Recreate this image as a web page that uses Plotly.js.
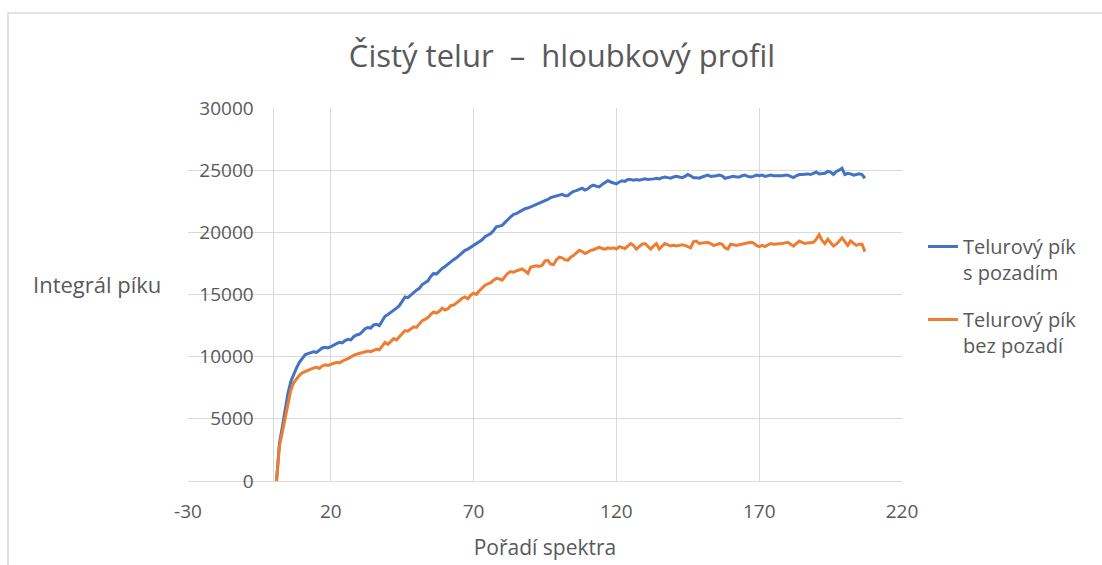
<!DOCTYPE html>
<html>
<head>
<meta charset="utf-8">
<script src="https://cdn.plot.ly/plotly-3.0.1.min.js"></script>
<style>html,body{margin:0;padding:0;background:#fff;}#chart{width:1102px;height:565px;}</style>
</head>
<body>
<div id="chart"></div>
<script>
const chartTitle = "Čistý telur\u00a0\u00a0–\u00a0\u00a0hloubkový profil";
const xTitle = "Pořadí spektra";
const yTitle = "Integrál píku";
const seriesNames = ["Telurový pík<br>s pozadím", "Telurový pík<br>bez pozadí"];
const xTickVals = [-30, 20, 70, 120, 170, 220];
const xTickText = ["-30", "20", "70", "120", "170", "220"];
const yTickVals = [0, 5000, 10000, 15000, 20000, 25000, 30000];
const yTickText = ["0", "5000", "10000", "15000", "20000", "25000", "30000"];

const withBackground = [
0,3000,4300,5800,7050,8000,8600,9100,9550,9900,
10150,10250,10300,10400,10350,10550,10700,10750,10700,10800,
10950,11050,11150,11100,11300,11400,11350,11600,11750,11800,
12000,12250,12350,12300,12550,12600,12500,12900,13250,13400,
13550,13700,13900,14100,14500,14800,14750,14950,15200,15350,
15500,15800,15950,16100,16450,16700,16650,16900,17100,17250,
17450,17600,17800,17950,18150,18300,18550,18650,18800,18900,
19100,19250,19400,19650,19750,19900,20150,20450,20500,20550,
20800,21050,21250,21450,21500,21650,21800,21900,21950,22050,
22150,22200,22300,22450,22500,22650,22800,22850,22900,23000,
23050,22950,22950,23150,23300,23350,23450,23550,23400,23500,
23700,23800,23700,23650,23850,24000,24150,24050,23950,23900,
24050,24150,24100,24250,24250,24200,24250,24200,24250,24300,
24250,24250,24300,24350,24300,24400,24450,24400,24350,24450,
24500,24450,24400,24500,24650,24550,24400,24400,24350,24450,
24550,24600,24500,24500,24550,24600,24550,24350,24400,24450,
24500,24450,24450,24550,24600,24500,24450,24500,24600,24550,
24600,24500,24550,24600,24550,24550,24500,24550,24600,24600,
24500,24400,24550,24650,24650,24700,24700,24650,24750,24850,
24700,24750,24750,24900,24850,24650,24900,25000,25150,24650,
24750,24700,24600,24650,24700,24650,24350
];

const withoutBackground = [
0,2800,3900,5000,6400,7300,7900,8250,8500,8700,
8800,8950,9000,9100,9150,9050,9250,9350,9300,9400,
9450,9550,9500,9650,9750,9850,10000,10100,10200,10250,
10350,10400,10450,10400,10500,10600,10550,10900,11150,11000,
11250,11450,11350,11600,11900,12100,12050,12250,12400,12350,
12600,12900,13000,13150,13400,13600,13500,13650,13900,13750,
13850,14100,14150,14300,14500,14700,14800,14650,14950,15100,
15000,15300,15500,15750,15850,15950,16150,16300,16250,16150,
16450,16700,16850,16800,16900,16950,17050,16900,16700,17200,
17250,17300,17250,17350,17700,17750,17450,17400,17800,18000,
17950,17800,17750,18000,18150,18350,18550,18450,18300,18400,
18550,18600,18700,18800,18700,18650,18750,18700,18750,18650,
18850,18800,18700,18900,19100,18950,18650,18850,19050,19100,
18900,18650,18900,19100,18650,18900,19100,19000,18900,18950,
18900,18950,19000,18950,18850,18750,19250,19300,19100,19150,
19150,19200,19100,18950,19000,19100,19050,18750,18650,19050,
19000,18950,19000,19050,19050,19100,19200,19150,18950,18850,
18950,18850,18950,19100,19050,19050,19050,19100,19150,19200,
19050,18900,19100,19300,19200,19100,19150,19150,19200,19450,
19800,19350,19100,19450,19200,18900,19050,19300,19550,19250,
18950,19300,19150,18950,19050,19050,18450
];

const spectrumIndex = withBackground.map((_, i) => i + 1);

const textColor = "#595959";
const gridColor = "#d9d9d9";
const fontFamily = "'Open Sans', 'DejaVu Sans', sans-serif";

const traces = [
  {x: spectrumIndex, y: withBackground, name: seriesNames[0], type: "scatter", mode: "lines",
   line: {color: "#4472C4", width: 3}, legendgroup: "a"},
  {x: spectrumIndex, y: withoutBackground, name: seriesNames[1], type: "scatter", mode: "lines",
   line: {color: "#ED7D31", width: 3}, legendgroup: "b"}
];

const L = 188, R = 902, T = 108, B = 481, W = 1102, H = 565;
const pw = R - L, ph = B - T;
const px = v => (v - L) / pw;
const py = v => (B - v) / ph;

const layout = {
  width: W, height: H,
  margin: {l: L, r: W - R, t: T, b: H - B},
  paper_bgcolor: "#fff", plot_bgcolor: "#fff",
  font: {family: fontFamily, color: textColor, size: 19},
  title: {text: chartTitle, font: {size: 31, color: textColor, family: fontFamily},
          x: 562 / W, xref: "container", xanchor: "center",
          y: 1 - 56 / H, yref: "container", yanchor: "middle"},
  showlegend: true,
  legend: {x: px(923), xanchor: "left", y: py(227), yanchor: "top",
           font: {size: 20, color: textColor, family: fontFamily},
           valign: "top", tracegroupgap: 18, bgcolor: "rgba(0,0,0,0)"},
  xaxis: {range: [-30, 220], tickmode: "array", tickvals: xTickVals, ticktext: xTickText,
          showgrid: true, gridcolor: gridColor, gridwidth: 1,
          zeroline: true, zerolinecolor: gridColor, zerolinewidth: 1,
          showline: true, linecolor: gridColor, linewidth: 1, mirror: false,
          ticks: "", ticklabelstandoff: 13,
          tickfont: {size: 19, color: textColor, family: fontFamily},
          title: {text: xTitle, font: {size: 21, color: textColor, family: fontFamily}, standoff: 17},
          automargin: false, fixedrange: true},
  yaxis: {range: [0, 30000], tickmode: "array", tickvals: yTickVals, ticktext: yTickText,
          anchor: "free", position: px(273.7), side: "left",
          showgrid: true, gridcolor: gridColor, gridwidth: 1,
          zeroline: false, showline: false,
          ticks: "", ticklabelstandoff: 20,
          tickfont: {size: 19, color: textColor, family: fontFamily},
          automargin: false, fixedrange: true},
  annotations: [
    {text: yTitle, xref: "paper", yref: "paper", x: px(31), y: py(284),
     xanchor: "left", yanchor: "middle", showarrow: false,
     font: {size: 22, color: textColor, family: fontFamily}}
  ],
  shapes: [
    {type: "rect", xref: "paper", yref: "paper", x0: px(8), x1: px(1110), y0: py(580), y1: py(13),
     line: {color: gridColor, width: 1.5}, fillcolor: "rgba(0,0,0,0)", layer: "below"}
  ]
};

Plotly.newPlot("chart", traces, layout, {staticPlot: true, displayModeBar: false});
</script>
</body>
</html>
